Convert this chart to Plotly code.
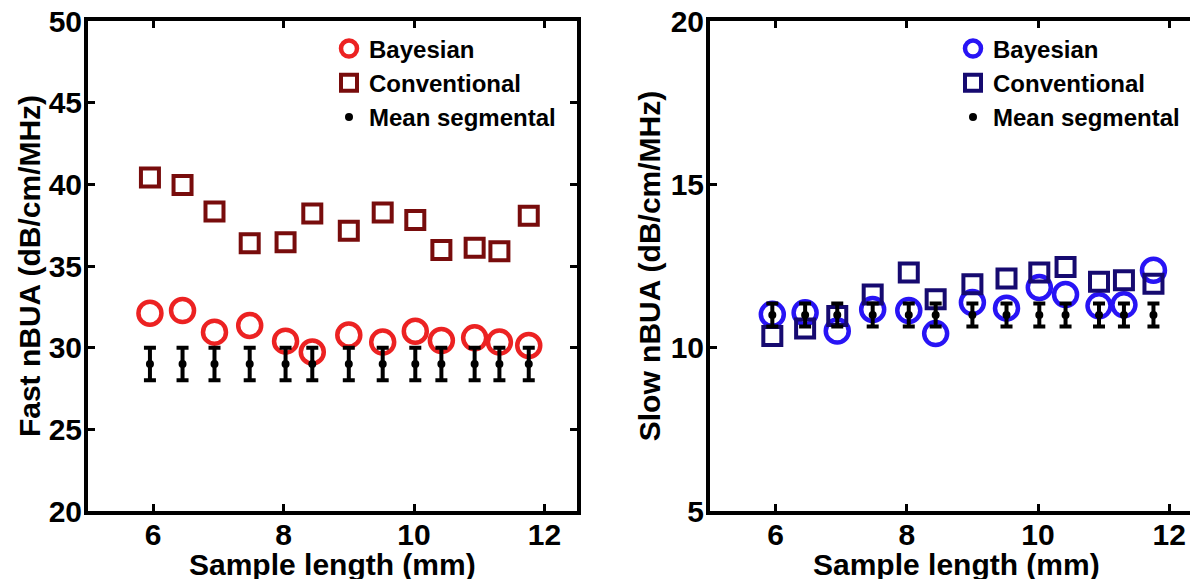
import plotly.graph_objects as go

# ---- data ----
sample_length = [5.95, 6.45, 6.94, 7.48, 8.03, 8.44, 9.0, 9.52, 10.02, 10.42, 10.93, 11.31, 11.76]

fast_bayesian = [32.11, 32.27, 30.95, 31.36, 30.40, 29.73, 30.78, 30.34, 31.01, 30.44, 30.60, 30.34, 30.13]
fast_conventional = [40.42, 39.96, 38.34, 36.39, 36.45, 38.22, 37.16, 38.28, 37.82, 35.98, 36.11, 35.90, 38.08]
fast_mean_seg = [29.0, 29.0, 29.0, 29.0, 29.0, 29.0, 29.0, 29.0, 29.0, 29.0, 29.0, 29.0, 29.0]
fast_mean_err = [1.0, 1.0, 1.0, 1.0, 1.0, 1.0, 1.0, 1.0, 1.0, 1.0, 1.0, 1.0, 1.0]

slow_bayesian = [11.02, 11.07, 10.51, 11.17, 11.14, 10.43, 11.38, 11.21, 11.84, 11.63, 11.28, 11.31, 12.37]
slow_conventional = [10.36, 10.59, 10.97, 11.63, 12.30, 11.48, 11.94, 12.12, 12.30, 12.47, 12.02, 12.06, 11.96]
slow_mean_seg = [11.0, 11.0, 11.0, 11.0, 11.0, 11.0, 11.0, 11.0, 11.0, 11.0, 11.0, 11.0, 11.0]
slow_mean_err = [0.35, 0.35, 0.35, 0.35, 0.35, 0.35, 0.35, 0.35, 0.35, 0.35, 0.35, 0.35, 0.35]

fast_yticks = [20, 25, 30, 35, 40, 45, 50]
slow_yticks = [5, 10, 15, 20]
x_ticks = [6, 8, 10, 12]

x_title = "Sample length (mm)"
fast_y_title = "Fast nBUA (dB/cm/MHz)"
slow_y_title = "Slow nBUA (dB/cm/MHz)"

# the page body has an 8px margin; the figure is made a bit larger than the
# window so that, like the reference, the right frame and the bottom title run off the edge
OFF = 8
W, H = 1200, 590
FONT = "Liberation Sans, Arial, Helvetica, sans-serif"

RED = "rgb(236,34,34)"
DARKRED = "rgb(120,12,12)"
BLUE = "rgb(40,20,245)"
NAVY = "rgb(22,10,112)"

# plot-area edges in page pixels
LEFT, TOP, BOTTOM, RIGHT = 88, 21, 510.7, 1202
m_l, m_t = LEFT - OFF, TOP - OFF
m_b = H - (BOTTOM - OFF)
m_r = W - (RIGHT - OFF)
PW = RIGHT - LEFT
PH = BOTTOM - TOP

def nx(page_x):
    return (page_x - LEFT) / PW

def ny(page_y):
    return (BOTTOM - page_y) / PH

fig = go.Figure()

def add_panel(xa, ya, legend, bay, conv, mean, err, c_bay, c_conv):
    fig.add_trace(go.Scatter(
        x=sample_length, y=bay, mode="markers", name="Bayesian",
        xaxis=xa, yaxis=ya, legend=legend,
        marker=dict(symbol="circle-open", size=23, color=c_bay, line=dict(width=4.5, color=c_bay)),
    ))
    fig.add_trace(go.Scatter(
        x=sample_length, y=conv, mode="markers", name="Conventional",
        xaxis=xa, yaxis=ya, legend=legend,
        marker=dict(symbol="square-open", size=18, color=c_conv, line=dict(width=4, color=c_conv)),
    ))
    fig.add_trace(go.Scatter(
        x=sample_length, y=mean, mode="markers", name="Mean segmental",
        xaxis=xa, yaxis=ya, legend=legend,
        marker=dict(symbol="circle", size=8, color="black"),
        error_y=dict(type="data", array=err, visible=True, color="black", thickness=4, width=6),
    ))

add_panel("x", "y", "legend", fast_bayesian, fast_conventional, fast_mean_seg, fast_mean_err, RED, DARKRED)
add_panel("x2", "y2", "legend2", slow_bayesian, slow_conventional, slow_mean_seg, slow_mean_err, BLUE, NAVY)

tickfont = dict(family=FONT, size=30, color="black", weight="bold")
titlefont = dict(family=FONT, size=30, color="black", weight="bold")
legfont = dict(family=FONT, size=24, color="black", weight="bold")

common = dict(
    ticks="inside", ticklen=7, tickwidth=3, tickcolor="black",
    showline=True, linewidth=4, linecolor="black", mirror="ticks",
    showgrid=False, zeroline=False, automargin=False, tickfont=tickfont,
    ticklabeloverflow="allow",
)

fig.update_layout(
    width=W, height=H, autosize=False,
    margin=dict(l=m_l, r=m_r, t=m_t, b=m_b, pad=0),
    paper_bgcolor="white", plot_bgcolor="white",
    xaxis=dict(domain=[0, nx(577)], range=[5.0, 12.5], tickvals=x_ticks, anchor="y",
               ticklabelstandoff=-6, **common),
    yaxis=dict(domain=[0, 1], range=[20, 50], tickvals=fast_yticks, anchor="x",
               ticklabelstandoff=-4,
               title=dict(text=fast_y_title, font=titlefont, standoff=0), **common),
    xaxis2=dict(domain=[nx(710), 1.0], range=[5.0, 12.5], tickvals=x_ticks, anchor="y2",
                ticklabelstandoff=-6, **common),
    yaxis2=dict(domain=[0, 1], range=[5, 20], tickvals=slow_yticks, anchor="x2",
                ticklabelstandoff=-4,
                title=dict(text=slow_y_title, font=titlefont, standoff=2), **common),
    legend=dict(x=nx(329), y=ny(26.5), xanchor="left", yanchor="top",
                bgcolor="rgba(0,0,0,0)", borderwidth=0, font=legfont,
                tracegroupgap=0, itemsizing="trace"),
    legend2=dict(x=nx(953), y=ny(26.5), xanchor="left", yanchor="top",
                 bgcolor="rgba(0,0,0,0)", borderwidth=0, font=legfont,
                 tracegroupgap=0, itemsizing="trace"),
    showlegend=True,
)

for xd in ["x domain", "x2 domain"]:
    fig.add_annotation(text=x_title, xref=xd, x=0.5, xanchor="center",
                       yref="paper", y=ny(564), yanchor="middle",
                       showarrow=False, font=titlefont)

fig.write_html("out.html")
